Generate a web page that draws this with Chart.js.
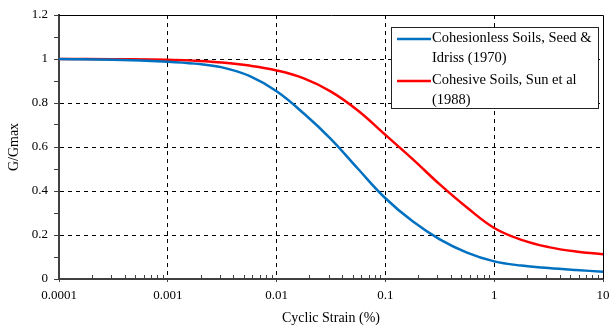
<!DOCTYPE html>
<html>
<head>
<meta charset="utf-8">
<script src="https://cdn.jsdelivr.net/npm/chart.js@4"></script>
<style>
  html, body { margin: 0; padding: 0; background: #fff; }
  canvas { display: block; }
</style>
</head>
<body>
<canvas id="my-chart" width="609" height="329"></canvas>
<script>
// strain (%) and G/Gmax, quarter-decade steps
var strain    = [0.0001, 0.000316, 0.001, 0.00178, 0.00316, 0.00562, 0.01, 0.0178, 0.0316, 0.0562, 0.1, 0.178, 0.316, 0.562, 1, 1.78, 3.16, 5.62, 10];
var blueRatio = [1.0, 0.997, 0.988, 0.979, 0.962, 0.923, 0.853, 0.752, 0.636, 0.5, 0.367, 0.262, 0.18, 0.12, 0.08, 0.061, 0.05, 0.041, 0.033];
var redRatio  = [1.0, 0.999, 0.997, 0.992, 0.984, 0.97, 0.948, 0.912, 0.852, 0.765, 0.655, 0.545, 0.43, 0.325, 0.232, 0.178, 0.145, 0.125, 0.113];

var legendLines = [
    ['Cohesionless Soils, Seed &', 'Idriss (1970)'],
    ['Cohesive Soils, Sun et al', '(1988)']
];
var seriesColors = ['#0070C0', '#FF0000'];

var xDecades = [0.0001, 0.001, 0.01, 0.1, 1, 10];
var xTickLabels = ['0.0001', '0.001', '0.01', '0.1', '1', '10'];
var yTickLabels = ['0', '0.2', '0.4', '0.6', '0.8', '1', '1.2'];

var FONT = 'Liberation Serif, Times New Roman, serif';

function toPoints(xs, ys) {
    return xs.map(function (x, i) { return {x: x, y: ys[i]}; });
}
function decadeIndex(v) {
    for (var i = 0; i < xDecades.length; i++) {
        if (Math.abs(v / xDecades[i] - 1) < 1e-6) return i;
    }
    return -1;
}
function isMajorY(v) {
    return Math.round(v * 10) % 2 === 0;
}

// frame + inward minor ticks on x + legend box
var framePlugin = {
    id: 'frame',
    afterDraw: function (chart) {
        var c = chart.ctx, a = chart.chartArea, xs = chart.scales.x;
        c.save();
        c.strokeStyle = '#000';
        c.lineWidth = 1;
        c.beginPath();
        c.moveTo(a.left, a.top + 0.5);
        c.lineTo(a.right + 0.5, a.top + 0.5);
        c.lineTo(a.right + 0.5, a.bottom);
        c.stroke();

        c.strokeStyle = '#404040';
        c.beginPath();
        for (var d = 0; d < xDecades.length - 1; d++) {
            for (var m = 2; m <= 9; m++) {
                var px = Math.round(xs.getPixelForValue(xDecades[d] * m)) + 0.5;
                c.moveTo(px, a.bottom);
                c.lineTo(px, a.bottom - 4);
            }
        }
        c.stroke();

        // legend
        var bx = a.right - 212, by = a.top + 12, bw = 207, bh = 81;
        c.fillStyle = '#fff';
        c.fillRect(bx, by, bw, bh);
        c.strokeStyle = '#222';
        c.lineWidth = 1;
        c.strokeRect(bx + 0.5, by + 0.5, bw, bh);
        c.font = '14.5px ' + FONT;
        c.textBaseline = 'middle';
        c.fillStyle = '#000';
        legendLines.forEach(function (lines, i) {
            var y0 = by + 12 + i * 42;
            c.strokeStyle = seriesColors[i];
            c.lineWidth = 2.5;
            c.beginPath();
            c.moveTo(bx + 6, y0);
            c.lineTo(bx + 40, y0);
            c.stroke();
            lines.forEach(function (t, j) {
                c.fillText(t, bx + 41, y0 - 1 + j * 20);
            });
        });
        c.restore();
    }
};

var ctx = document.getElementById('my-chart').getContext('2d');
new Chart(ctx, {
    type: 'line',
    data: {
        datasets: [{
            label: legendLines[0].join(' '),
            data: toPoints(strain, blueRatio),
            borderColor: seriesColors[0],
            backgroundColor: seriesColors[0],
            borderWidth: 2.5,
            pointRadius: 0,
            tension: 0.4
        }, {
            label: legendLines[1].join(' '),
            data: toPoints(strain, redRatio),
            borderColor: seriesColors[1],
            backgroundColor: seriesColors[1],
            borderWidth: 2.5,
            pointRadius: 0,
            tension: 0.4
        }]
    },
    options: {
        responsive: false,
        animation: false,
        layout: {padding: {top: 15, right: 6, left: 0, bottom: 0}},
        plugins: {legend: {display: false}, tooltip: {enabled: false}},
        scales: {
            x: {
                type: 'logarithmic',
                min: 0.0001,
                max: 10,
                afterBuildTicks: function (scale) {
                    scale.ticks = xDecades.map(function (v) { return {value: v}; });
                },
                afterFit: function (scale) {
                    scale.height = 50;
                    scale.paddingLeft = 0;
                    scale.paddingRight = 0;
                },
                ticks: {
                    autoSkip: false,
                    maxRotation: 0,
                    padding: 6,
                    color: '#000',
                    font: {family: FONT, size: 13},
                    callback: function (v) {
                        var i = decadeIndex(v);
                        return i >= 0 ? xTickLabels[i] : '';
                    }
                },
                grid: {
                    color: function (c) {
                        return (c.tick && c.index > 0 && c.index < xDecades.length - 1) ? '#000' : 'rgba(0,0,0,0)';
                    },
                    lineWidth: 1,
                    drawTicks: true,
                    tickLength: 3,
                    tickColor: '#404040'
                },
                border: {display: true, color: '#404040', width: 2, dash: [4, 4]},
                title: {
                    display: true,
                    text: 'Cyclic Strain (%)',
                    color: '#000',
                    font: {family: FONT, size: 14},
                    padding: {top: 2, bottom: 2}
                }
            },
            y: {
                min: 0,
                max: 1.2,
                afterFit: function (scale) { scale.width = 59; },
                ticks: {
                    stepSize: 0.1,
                    autoSkip: false,
                    padding: 6,
                    color: '#000',
                    font: {family: FONT, size: 13},
                    callback: function (v) {
                        var k = Math.round(v * 10);
                        return k % 2 === 0 ? yTickLabels[k / 2] : '';
                    }
                },
                grid: {
                    color: function (c) {
                        if (!c.tick) return 'rgba(0,0,0,0)';
                        var v = c.tick.value;
                        return (isMajorY(v) && v > 0.05 && v < 1.15) ? '#000' : 'rgba(0,0,0,0)';
                    },
                    lineWidth: 1,
                    drawTicks: true,
                    tickLength: 5,
                    tickColor: '#404040'
                },
                border: {display: true, color: '#404040', width: 2, dash: [4, 4]},
                title: {
                    display: true,
                    text: 'G/Gmax',
                    color: '#000',
                    font: {family: FONT, size: 14},
                    padding: {top: 6, bottom: 0}
                }
            }
        }
    },
    plugins: [framePlugin]
});
</script>
</body>
</html>
